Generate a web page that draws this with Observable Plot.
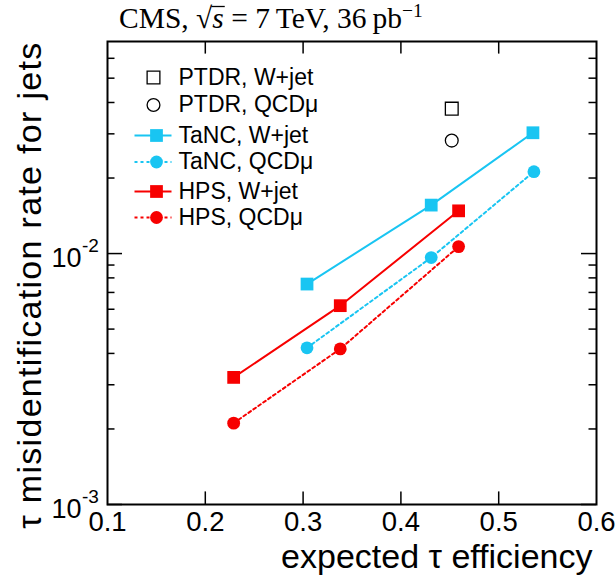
<!DOCTYPE html>
<html><head><meta charset="utf-8">
<script src="https://cdn.jsdelivr.net/npm/d3@7"></script>
<script src="https://cdn.jsdelivr.net/npm/@observablehq/plot@0.6"></script>
<style>body{margin:0;background:#fff}</style>
</head><body><div id="chart"></div>
<script>
// ---- data ----
const tancWjetEff = [0.304, 0.431, 0.535];
const tancWjetRate = [0.00756, 0.0156, 0.0303];
const tancQcdEff = [0.304, 0.431, 0.536];
const tancQcdRate = [0.00421, 0.00964, 0.0212];
const hpsWjetEff = [0.229, 0.338, 0.459];
const hpsWjetRate = [0.00321, 0.0062, 0.0148];
const hpsQcdEff = [0.229, 0.338, 0.459];
const hpsQcdRate = [0.00211, 0.00417, 0.01066];
const ptdrWjetEff = [0.452];
const ptdrWjetRate = [0.0378];
const ptdrQcdEff = [0.452];
const ptdrQcdRate = [0.0282];

const xTicks = [0.1, 0.2, 0.3, 0.4, 0.5, 0.6];
const xTickLabels = ["0.1", "0.2", "0.3", "0.4", "0.5", "0.6"];
const yMajor = [0.001, 0.01];
const yMantissa = ["10", "10"];
const yExponent = ["-3", "-2"];
const yMinor = [0.002, 0.003, 0.004, 0.005, 0.006, 0.007, 0.008, 0.009, 0.02, 0.03, 0.04, 0.05, 0.06];

const legendLabels = ["PTDR, W+jet", "PTDR, QCDμ", "TaNC, W+jet", "TaNC, QCDμ", "HPS, W+jet", "HPS, QCDμ"];
const xTitle = "expected τ efficiency";
const yTitle = "τ misidentification rate for jets";

const cyan = "#19c5f2";
const red = "#f70000";

// ---- layout ----
const W = 616, H = 580, mL = 107, mR = 20, mT = 41, mB = 76;
const fw = W - mL - mR, fh = H - mT - mB;
const sans = "Liberation Sans, Arial, Helvetica, sans-serif";

const rows = (e, r) => e.map((v, i) => ({eff: v, rate: r[i]}));
const tancWjet = rows(tancWjetEff, tancWjetRate);
const tancQcd = rows(tancQcdEff, tancQcdRate);
const hpsWjet = rows(hpsWjetEff, hpsWjetRate);
const hpsQcd = rows(hpsQcdEff, hpsQcdRate);
const ptdrWjet = rows(ptdrWjetEff, ptdrWjetRate);
const ptdrQcd = rows(ptdrQcdEff, ptdrQcdRate);

const sqR = 7.2, cR = 6.4;
const lineSym = {draw(ctx) { ctx.moveTo(-18.5, 0); ctx.lineTo(18.5, 0); }};

const legendStyle = [
  {sym: "square", fill: "none", stroke: "black", line: null},
  {sym: "circle", fill: "none", stroke: "black", line: null},
  {sym: "square", fill: cyan, stroke: "none", line: cyan, dash: null},
  {sym: "circle", fill: cyan, stroke: "none", line: cyan, dash: "3,3"},
  {sym: "square", fill: red, stroke: "none", line: red, dash: null},
  {sym: "circle", fill: red, stroke: "none", line: red, dash: "3,3"}
];
const legendRowDy = [36, 63.5, 94, 120.5, 150, 176];

const legendMarks = legendLabels.flatMap((lab, i) => {
  const s = legendStyle[i];
  const out = [];
  if (s.line) out.push(Plot.dot([0], {frameAnchor: "top-left", dx: 45.5, dy: legendRowDy[i], symbol: lineSym, r: 5, fill: "none", stroke: s.line, strokeWidth: 2, strokeDasharray: s.dash || undefined}));
  const filled = s.fill !== "none";
  out.push(Plot.dot([0], {frameAnchor: "top-left", dx: filled ? 49 : 46, dy: legendRowDy[i], symbol: s.sym,
    r: s.sym === "square" ? sqR : cR, fill: s.fill, stroke: s.stroke, strokeWidth: 1.3}));
  out.push(Plot.text([lab], {frameAnchor: "top-left", dx: 71, dy: legendRowDy[i], text: d => d, textAnchor: "start", lineAnchor: "middle", fontSize: 23, fill: "black"}));
  return out;
});

const plot = Plot.plot({
  width: W, height: H,
  marginLeft: mL, marginRight: mR, marginTop: mT, marginBottom: mB,
  style: {fontFamily: sans, background: "white", color: "black"},
  x: {domain: [0.1, 0.6], axis: null},
  y: {type: "log", domain: [0.001, 0.07], axis: null},
  marks: [
    // ticks
    Plot.tickX(xTicks.slice(1, -1), {x: d => d, insetTop: fh - 12.6, stroke: "black", strokeWidth: 1.5}),
    Plot.tickX(xTicks.slice(1, -1), {x: d => d, insetBottom: fh - 12.6, stroke: "black", strokeWidth: 1.5}),
    Plot.tickY(yMajor, {y: d => d, insetRight: fw - 15, stroke: "black", strokeWidth: 1.5}),
    Plot.tickY(yMajor, {y: d => d, insetLeft: fw - 15, stroke: "black", strokeWidth: 1.5}),
    Plot.tickY(yMinor, {y: d => d, insetRight: fw - 7.5, stroke: "black", strokeWidth: 1.5}),
    Plot.tickY(yMinor, {y: d => d, insetLeft: fw - 7.5, stroke: "black", strokeWidth: 1.5}),
    Plot.frame({stroke: "black", strokeWidth: 2}),
    // tick labels
    Plot.text(xTicks, {x: d => d, frameAnchor: "bottom", text: (d, i) => xTickLabels[i], lineAnchor: "top", dy: 6.5, fontSize: 27.5, fill: "black"}),
    Plot.text(yMajor, {y: d => d, frameAnchor: "left", text: (d, i) => yMantissa[i], textAnchor: "end", lineAnchor: "bottom", dx: -26, dy: 13, fontSize: 27, fill: "black"}),
    Plot.text(yMajor, {y: d => d, frameAnchor: "left", text: (d, i) => yExponent[i], textAnchor: "start", lineAnchor: "bottom", dx: -25.5, dy: -2, fontSize: 19, fill: "black"}),
    // axis titles
    Plot.text([xTitle], {frameAnchor: "bottom-right", text: d => d, textAnchor: "end", lineAnchor: "bottom", dx: -4, dy: 63, fontSize: 34, fill: "black"}),
    Plot.text([yTitle], {frameAnchor: "top-left", text: d => d, rotate: -90, textAnchor: "end", lineAnchor: "bottom", dx: -67, dy: 0, fontSize: 34, fill: "black"}),
    // data
    Plot.line(tancWjet, {x: "eff", y: "rate", stroke: cyan, strokeWidth: 2}),
    Plot.line(tancQcd, {x: "eff", y: "rate", stroke: cyan, strokeWidth: 2, strokeDasharray: "3,3"}),
    Plot.line(hpsWjet, {x: "eff", y: "rate", stroke: red, strokeWidth: 2}),
    Plot.line(hpsQcd, {x: "eff", y: "rate", stroke: red, strokeWidth: 2, strokeDasharray: "3,3"}),
    Plot.dot(tancWjet, {x: "eff", y: "rate", symbol: "square", r: sqR, fill: cyan}),
    Plot.dot(tancQcd, {x: "eff", y: "rate", symbol: "circle", r: cR, fill: cyan}),
    Plot.dot(hpsWjet, {x: "eff", y: "rate", symbol: "square", r: sqR, fill: red}),
    Plot.dot(hpsQcd, {x: "eff", y: "rate", symbol: "circle", r: cR, fill: red}),
    Plot.dot(ptdrWjet, {x: "eff", y: "rate", symbol: "square", r: sqR, fill: "none", stroke: "black", strokeWidth: 1.3}),
    Plot.dot(ptdrQcd, {x: "eff", y: "rate", symbol: "circle", r: cR, fill: "none", stroke: "black", strokeWidth: 1.3}),
    ...legendMarks
  ]
});

document.getElementById("chart").appendChild(plot);
const svg = d3.select(plot);

// stretch the y title to the reference length
svg.selectAll("text").filter(function() { return this.textContent === yTitle; })
  .style("letter-spacing", "1.3px");

// title (with radical, overline and superscript)
const t = svg.append("text").attr("x", 119).attr("y", 28).attr("text-anchor", "start")
  .attr("font-family", "Liberation Serif, Times New Roman, serif").attr("font-size", 29.5).attr("fill", "black");
t.append("tspan").text("CMS, √");
t.append("tspan").attr("font-style", "italic").text("s");
t.append("tspan").text(" = 7\u2009TeV, 36\u2009pb");
t.append("tspan").attr("dy", -11).attr("font-size", 19.5).text("−1");
// overline of the square root
const node = t.node();
const rad = node.getExtentOfChar(5), sch = node.getExtentOfChar(6);
svg.append("line")
  .attr("x1", rad.x + rad.width - 1).attr("x2", sch.x + sch.width + 1)
  .attr("y1", rad.y + 4.5).attr("y2", rad.y + 4.5)
  .attr("stroke", "black").attr("stroke-width", 1.3);
</script>
</body></html>
